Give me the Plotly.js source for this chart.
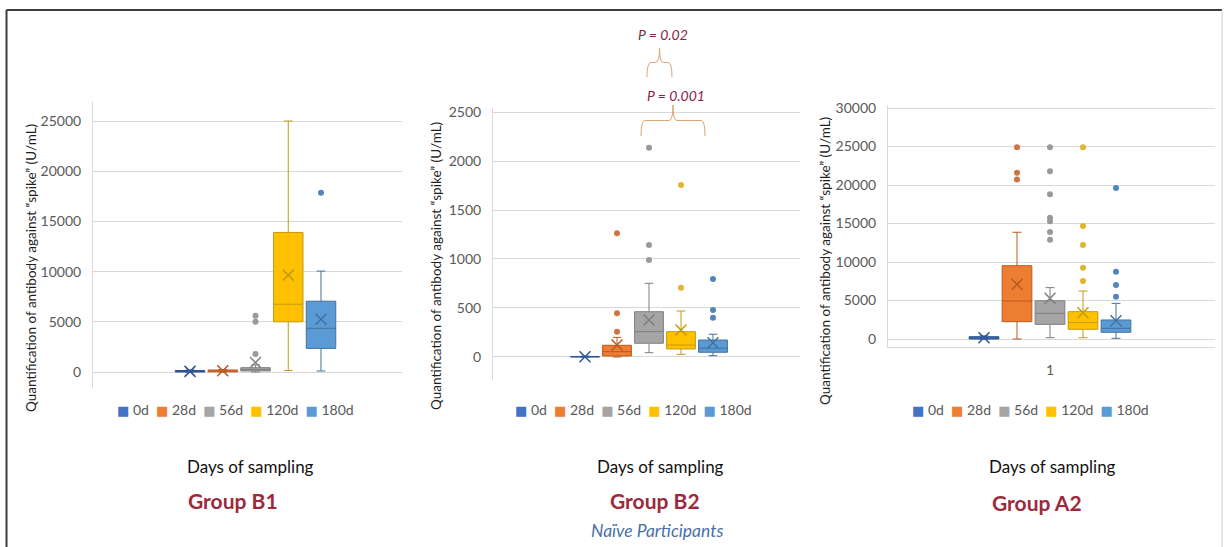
<!DOCTYPE html>
<html>
<head>
<meta charset="utf-8">
<script src="https://cdn.plot.ly/plotly-3.0.1.min.js"></script>
<style>html,body{margin:0;padding:0;background:#fff;}#chart{width:1225px;height:547px;}</style>
</head>
<body>
<div id="chart"></div>
<script>
// ---------- data ----------
const categories = ['0d', '28d', '56d', '120d', '180d'];
const fillColors = ['#4472C4', '#ED7D31', '#A5A5A5', '#FFC000', '#5B9BD5'];
const lineColors = ['#2F5597', '#B95A22', '#7F7F7F', '#C49A10', '#41719C'];
const pointColors = ['#4472C4', '#CF7440', '#999999', '#E3B42C', '#4F86C0'];

const groupNames = ['Group B1', 'Group B2', 'Group A2'];
const xAxisTitle = 'Days of sampling';
const yAxisTitle = 'Quantification of antibody against “spike” (U/mL)';
const subtitleB2 = 'Naïve Participants';
const pLabels = ['P = 0.02', 'P = 0.001'];
const a2TickLabel = '1';

// Group B1
const b1Q1 = [0, 20, 100, 5000, 2350];
const b1Median = [50, 80, 250, 6750, 4350];
const b1Q3 = [150, 200, 430, 13900, 7050];
const b1Lower = [0, 0, 0, 150, 100];
const b1Upper = [200, 250, 700, 25000, 10050];
const b1Mean = [60, 120, 950, 9650, 5250];
const b1Outliers = [[], [], [1800, 5000, 5600], [], [17850]];

// Group B2
const b2Q1 = [0, 10, 140, 82, 48];
const b2Median = [2, 54, 258, 122, 89];
const b2Q3 = [5, 119, 462, 258, 173];
const b2Lower = [0, 0, 44, 27, 13];
const b2Upper = [8, 200, 752, 469, 232];
const b2Mean = [3, 122, 378, 276, 146];
const b2Outliers = [[], [258, 446, 1262], [990, 1143, 2136], [707, 1755], [401, 480, 796]];

// Group A2
const a2Q1 = [0, 2250, 1900, 1260, 870];
const a2Median = [100, 4940, 3330, 2120, 1390];
const a2Q3 = [300, 9520, 4970, 3550, 2470];
const a2Lower = [0, 0, 170, 170, 90];
const a2Upper = [400, 13860, 6670, 6230, 4630];
const a2Mean = [150, 7100, 5280, 3420, 2380];
const a2Outliers = [[], [20700, 21600, 24900], [12900, 13900, 15300, 15750, 18800, 21800, 24900],
                    [7530, 9260, 12200, 14680, 24900], [5500, 7000, 8740, 19600]];

// ---------- build ----------
const W = 1225, H = 547;
const px = x => x / W;
const py = y => 1 - y / H;
const FONT = 'Lato, "Open Sans", "DejaVu Sans", sans-serif';

const panels = [
  {xa: 'x', ya: 'y', q1: b1Q1, med: b1Median, q3: b1Q3, lo: b1Lower, hi: b1Upper, mean: b1Mean, out: b1Outliers},
  {xa: 'x2', ya: 'y2', q1: b2Q1, med: b2Median, q3: b2Q3, lo: b2Lower, hi: b2Upper, mean: b2Mean, out: b2Outliers},
  {xa: 'x3', ya: 'y3', q1: a2Q1, med: a2Median, q3: a2Q3, lo: a2Lower, hi: a2Upper, mean: a2Mean, out: a2Outliers}
];

const traces = [];
panels.forEach(p => {
  categories.forEach((c, i) => {
    traces.push({
      type: 'box', name: c, xaxis: p.xa, yaxis: p.ya,
      x: [i], q1: [p.q1[i]], median: [p.med[i]], q3: [p.q3[i]],
      lowerfence: [p.lo[i]], upperfence: [p.hi[i]],
      boxpoints: false, width: 0.9, whiskerwidth: 0.3,
      fillcolor: fillColors[i], line: {color: lineColors[i], width: 1},
      showlegend: false, hoverinfo: 'y'
    });
    traces.push({
      type: 'scatter', mode: 'markers', xaxis: p.xa, yaxis: p.ya,
      x: [i], y: [p.mean[i]], name: c + ' mean',
      marker: {symbol: 'x-thin-open', size: 11, color: lineColors[i], line: {color: lineColors[i], width: 1.5}},
      showlegend: false
    });
    if (p.out[i].length) {
      traces.push({
        type: 'scatter', mode: 'markers', xaxis: p.xa, yaxis: p.ya,
        x: p.out[i].map(() => i), y: p.out[i], name: c + ' outliers',
        marker: {symbol: 'circle', size: 6, color: pointColors[i]},
        showlegend: false
      });
    }
  });
});

const tickFont = {family: FONT, size: 14, color: '#595959'};
function yAxis(domain, range, dtick) {
  return {
    domain: domain, range: range, dtick: dtick, tick0: 0,
    tickformat: 'd', exponentformat: 'none',
    showgrid: true, gridcolor: '#D9D9D9', gridwidth: 1,
    zeroline: false, showline: true, linecolor: '#D9D9D9', linewidth: 1,
    ticks: '', ticklabelstandoff: 8, tickfont: tickFont, automargin: false, fixedrange: true
  };
}
function xAxis(domain, range, anchor) {
  return {
    domain: domain, range: range, anchor: anchor,
    showgrid: false, zeroline: false, showline: false, showticklabels: false,
    ticks: '', automargin: false, fixedrange: true
  };
}

const layout = {
  width: W, height: H,
  margin: {l: 0, r: 0, t: 0, b: 0},
  paper_bgcolor: '#ffffff', plot_bgcolor: 'rgba(0,0,0,0)',
  showlegend: false,
  font: {family: FONT},
  xaxis: xAxis([px(93), px(402)], [-2.962, 6.473], 'y'),
  yaxis: yAxis([py(388), py(102)], [-1594, 26892], 5000),
  xaxis2: xAxis([px(493), px(800)], [-2.875, 6.719], 'y2'),
  yaxis2: yAxis([py(380), py(108)], [-235, 2541], 500),
  xaxis3: Object.assign(xAxis([px(888), px(1215)], [-2.909, 7.0], 'y3'), {
    showline: true, linecolor: '#D9D9D9', linewidth: 1,
    showticklabels: true, tickvals: [2], ticktext: [a2TickLabel],
    tickfont: tickFont, ticklabelstandoff: 10
  }),
  yaxis3: yAxis([py(347), py(105)], [-1039, 30390], 5000),
  annotations: [],
  shapes: []
};
layout.yaxis.anchor = 'x';
layout.yaxis2.anchor = 'x2';
layout.yaxis3.anchor = 'x3';

// Legends (Excel style) built from categories and colours
function legendText() {
  return categories.map((c, i) =>
    '<span style="color:' + fillColors[i] + ';font-size:13px">■</span>\u00a0' + c
  ).join('\u00a0\u00a0');
}
const legendCenters = [235, 633, 1030];
const xTitleCenters = [250, 660, 1052];
const groupCenters = [[233, 500], [655, 500], [1037, 502]];
const yTitlePos = [[31, 268], [436, 266], [825, 261]];

legendCenters.forEach(cx => layout.annotations.push({
  xref: 'paper', yref: 'paper', x: px(cx), y: py(409), xanchor: 'center', yanchor: 'middle',
  text: legendText(), showarrow: false, font: {family: FONT, size: 14, color: '#595959'}
}));
xTitleCenters.forEach(cx => layout.annotations.push({
  xref: 'paper', yref: 'paper', x: px(cx), y: py(466), xanchor: 'center', yanchor: 'middle',
  text: xAxisTitle, showarrow: false, font: {family: FONT, size: 17, color: '#111111'}
}));
groupCenters.forEach((g, k) => layout.annotations.push({
  xref: 'paper', yref: 'paper', x: px(g[0]), y: py(g[1]), xanchor: 'center', yanchor: 'middle',
  text: '<b>' + groupNames[k] + '</b>', showarrow: false, font: {family: FONT, size: 21, color: '#9C2A3C'}
}));
yTitlePos.forEach(t => layout.annotations.push({
  xref: 'paper', yref: 'paper', x: px(t[0]), y: py(t[1]), xanchor: 'center', yanchor: 'middle',
  text: yAxisTitle, textangle: -90, showarrow: false, font: {family: FONT, size: 13.5, color: '#1E1E1E'}
}));
layout.annotations.push({
  xref: 'paper', yref: 'paper', x: px(657), y: py(530), xanchor: 'center', yanchor: 'middle',
  text: '<i>' + subtitleB2 + '</i>', showarrow: false, font: {family: FONT, size: 17.5, color: '#4A6FA8'}
});
[[663, 34], [676, 95]].forEach((p, k) => layout.annotations.push({
  xref: 'paper', yref: 'paper', x: px(p[0]), y: py(p[1]), xanchor: 'center', yanchor: 'middle',
  text: '<i>' + pLabels[k] + '</i>', showarrow: false, font: {family: FONT, size: 14, color: '#8A2340'}
}));

// Braces (overbrace shape) in pixel coords
function brace(x0, x1, yTip, yEnd) {
  const xc = (x0 + x1) / 2, ym = (yTip + yEnd) / 2, r = 4;
  const P = (x, y) => px(x).toFixed(5) + ',' + py(y).toFixed(5);
  return 'M' + P(x0, yEnd) + ' Q' + P(x0, ym) + ' ' + P(x0 + r, ym) +
         ' L' + P(xc - r, ym) + ' Q' + P(xc, ym) + ' ' + P(xc, yTip) +
         ' Q' + P(xc, ym) + ' ' + P(xc + r, ym) +
         ' L' + P(x1 - r, ym) + ' Q' + P(x1, ym) + ' ' + P(x1, yEnd);
}
layout.shapes.push({type: 'path', xref: 'paper', yref: 'paper', path: brace(647, 672, 48, 77), line: {color: '#D9A574', width: 1}});
layout.shapes.push({type: 'path', xref: 'paper', yref: 'paper', path: brace(641, 705, 105, 136), line: {color: '#D9A574', width: 1}});

// Picture frame
layout.shapes.push({type: 'line', xref: 'paper', yref: 'paper', x0: px(6.5), x1: px(6.5), y0: 0, y1: py(10), line: {color: '#3C3C3C', width: 2}});
layout.shapes.push({type: 'line', xref: 'paper', yref: 'paper', x0: px(6.5), x1: px(1222), y0: py(10), y1: py(10), line: {color: '#3C3C3C', width: 2}});
layout.shapes.push({type: 'line', xref: 'paper', yref: 'paper', x0: px(1222), x1: px(1222), y0: 0, y1: py(10), line: {color: '#CFCFCF', width: 1}});

Plotly.newPlot('chart', traces, layout, {displayModeBar: false, staticPlot: true});
</script>
</body>
</html>
